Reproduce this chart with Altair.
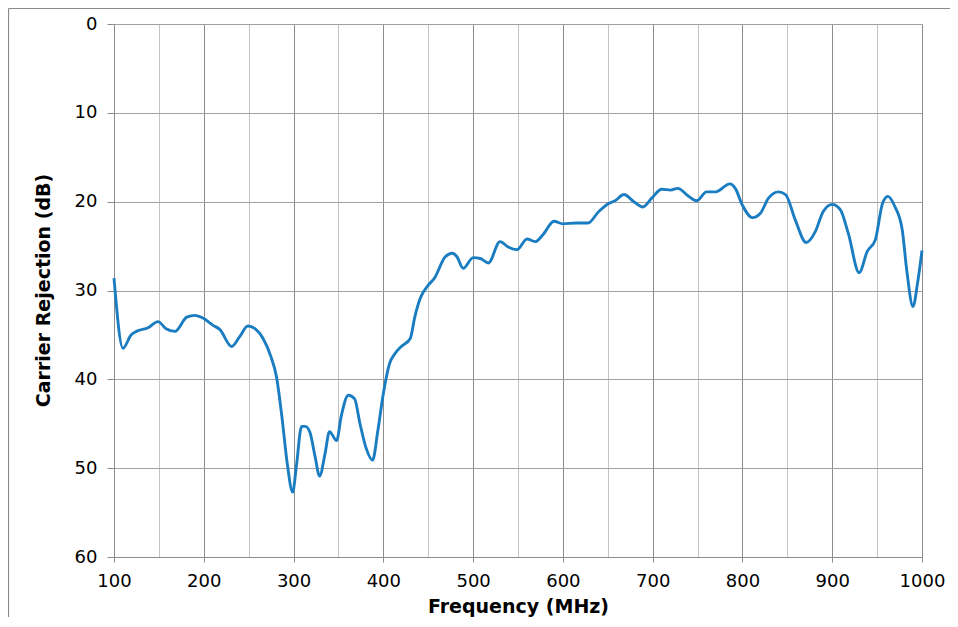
import altair as alt
import pandas as pd

freq_mhz = [100,110,119,125,138,149,158,168,181,190,199,210,218,231,240,249,257,266,275,281,
            287,293,299,303,309,313,318,324,329,335,340,348,353,361,368,374,381,388,394,400,
            407,413,420,430,435,441,450,457,469,477,482,489,500,508,517,530,539,549,560,569,
            578,590,600,615,628,640,651,658,668,679,689,699,710,720,728,740,749,760,770,786,
            792,800,811,820,829,840,848,859,871,881,890,900,909,918,930,939,948,956,962,970,
            978,983,990,995,1000]
rejection_db = [28.6,36.5,35.0,34.6,34.2,33.5,34.3,34.6,33.0,32.8,33.1,33.9,34.4,36.3,35.2,34.0,34.3,35.4,37.5,39.7,
                44.2,49.5,52.7,49.9,45.3,45.3,45.9,48.7,50.9,48.4,45.9,46.9,44.2,41.8,42.2,45.0,47.8,49.1,45.7,41.6,
                38.2,37.1,36.3,35.4,33.0,30.9,29.4,28.6,26.2,25.8,26.2,27.5,26.3,26.4,26.9,24.5,25.1,25.4,24.2,24.5,
                23.7,22.2,22.5,22.4,22.4,21.1,20.2,19.9,19.2,20.0,20.6,19.6,18.6,18.7,18.5,19.4,19.9,18.9,18.9,18.0,
                18.5,20.4,21.8,21.3,19.6,18.9,19.2,22.1,24.6,23.4,21.1,20.3,20.9,23.6,28.0,25.6,24.3,20.2,19.4,20.6,
                23.2,27.7,31.8,29.2,25.5]
x_ticks = list(range(100, 1001, 50))
y_ticks = list(range(0, 61, 10))

df = pd.DataFrame({"freq": freq_mhz, "rej": rejection_db})

FONT = "DejaVu Sans"
major = "datum.value % 100 === 0"

line = alt.Chart(df).mark_line(
    color="#1b7dc1", strokeWidth=2.9, interpolate="monotone"
).encode(
    x=alt.X("freq:Q",
            scale=alt.Scale(domain=[100, 1000], nice=False, zero=False),
            axis=alt.Axis(
                title="Frequency (MHz)", values=x_ticks, format="d",
                labelExpr=f"{major} ? datum.label : ''",
                labelOverlap=False, labelFlush=False,
                gridColor={"condition": {"test": major, "value": "#8c8c8c"}, "value": "#c4c4c4"},
                tickOpacity={"condition": {"test": major, "value": 1}, "value": 0},
                tickSize=5, tickColor="#8c8c8c",
                labelBaseline="alphabetic", labelPadding=24,
                titleY=55, titleBaseline="alphabetic",
            )),
    y=alt.Y("rej:Q",
            scale=alt.Scale(domain=[0, 60], reverse=True, nice=False),
            axis=alt.Axis(
                title="Carrier Rejection (dB)", values=y_ticks, format="d",
                labelOverlap=False, labelFlush=False,
                gridColor="#a0a0a0", tickSize=7, tickColor="#8c8c8c",
                labelPadding=10,
                titleX=-65, titleY=266, titleAngle=-90,
                titleBaseline="alphabetic", titleAlign="center",
            )),
)

frame_data = alt.Data(values=[{}])
frame_top = alt.Chart(frame_data).mark_rule(color="#8a8a8a", strokeWidth=1.2).encode(
    x=alt.value(-105.5), x2=alt.value(900), y=alt.value(-15.5)
)
frame_left = alt.Chart(frame_data).mark_rule(color="#8a8a8a", strokeWidth=1.2).encode(
    x=alt.value(-105.5), y=alt.value(-15.5), y2=alt.value(700)
)

chart = alt.layer(line, frame_top, frame_left).properties(
    width=808, height=533,
    padding={"left": 106, "top": 16, "right": 28, "bottom": 60},
    autosize=alt.AutoSizeParams(type="none"),
    background="white",
).configure_view(strokeWidth=0).configure_axis(
    labelFont=FONT, titleFont=FONT, labelFontSize=18, titleFontSize=19,
    titleFontWeight="bold", labelColor="#000000", titleColor="#000000",
    domainColor="#8c8c8c", gridWidth=1,
)

chart.save("out.html", embed_options={"renderer": "svg", "actions": False})
